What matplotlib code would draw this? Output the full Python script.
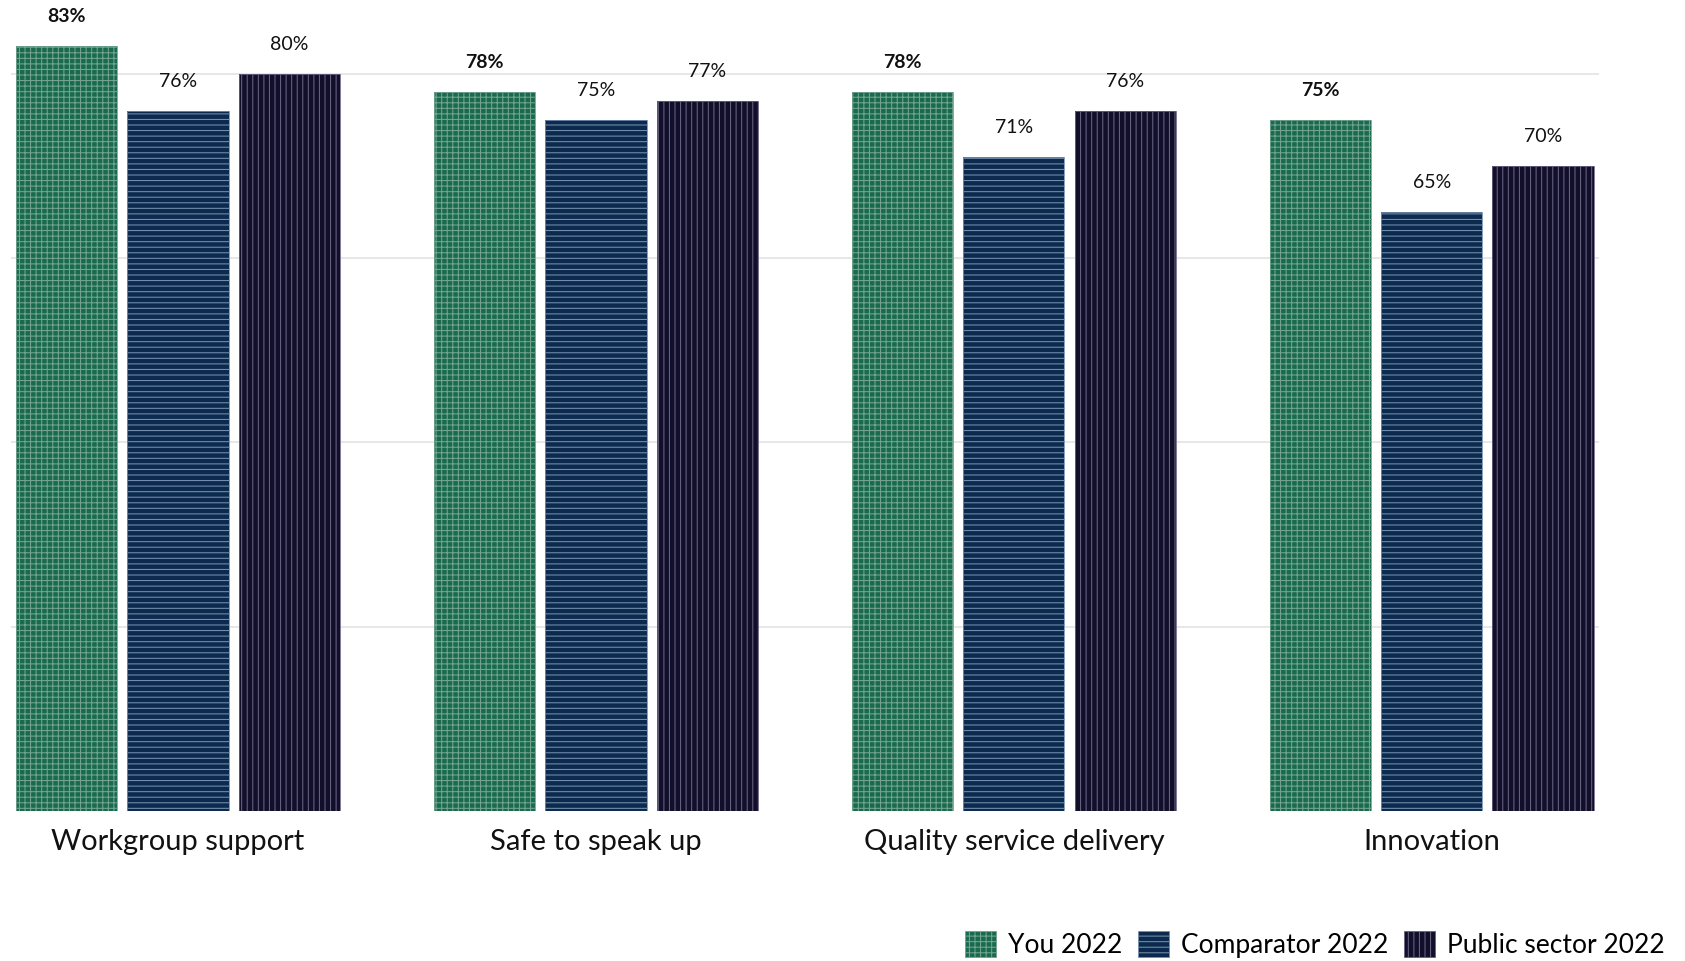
import numpy as np
import matplotlib
matplotlib.use("Agg")
import matplotlib.pyplot as plt
from matplotlib.patches import Patch

# survey index scores, % positive
categories = ["Workgroup support", "Safe to speak up", "Quality service delivery", "Innovation"]
series = ["You 2022", "Comparator 2022", "Public sector 2022"]
you_2022 = [83, 78, 78, 75]
comparator_2022 = [76, 75, 71, 65]
public_sector_2022 = [80, 77, 76, 70]

values = [you_2022, comparator_2022, public_sector_2022]
face = ["#196a4e", "#0b2a4d", "#120f2a"]
hatch_col = ["#74a591", "#7590b0", "#6a6384"]
hatches = ["+++", "---", "|||"]

plt.rcParams["font.family"] = ["Lato", "DejaVu Sans"]
plt.rcParams["hatch.linewidth"] = 0.75

fig = plt.figure(figsize=(16.85, 9.61), dpi=100)
ax = fig.add_axes([0.0064, 0.156, 0.9426, 0.844])

x = np.arange(len(categories))
width = 0.242
step = 0.266

for i, vals in enumerate(values):
    pos = x + (i - 1) * step
    ax.bar(pos, vals, width, color=face[i], linewidth=0, zorder=2)
    ax.bar(pos, vals, width, facecolor="none", edgecolor=hatch_col[i],
           hatch=hatches[i], linewidth=0.6, zorder=3)
    for p, v in zip(pos, vals):
        ax.text(p, v + 3.2, f"{v}%", ha="center", va="center",
                fontsize=14, color="#111111",
                fontweight="bold" if i == 0 else "normal")

for g in (20, 40, 60, 80):
    ax.axhline(g, color="#e3e3e3", lw=1.2, zorder=1)
ax.axhline(-0.4, color="#dcdcdc", lw=2.2, zorder=1)

ax.set_xlim(-0.4, 3.4)
ax.set_ylim(0, 88)
ax.set_yticks([])
ax.set_xticks(x)
ax.set_xticklabels(categories, fontsize=21, color="#111111")
ax.tick_params(axis="x", length=0, pad=13)
for s in ax.spines.values():
    s.set_visible(False)

handles = [Patch(facecolor=face[i], edgecolor=hatch_col[i], hatch=hatches[i],
                 linewidth=0.6) for i in range(3)]
fig.legend(handles, series, loc="lower right", bbox_to_anchor=(1.002, -0.022),
           ncol=3, frameon=False, fontsize=19, handlelength=1.17,
           handleheight=1.14, handletextpad=0.45, columnspacing=0.6)

fig.savefig("out.png", dpi=100)
